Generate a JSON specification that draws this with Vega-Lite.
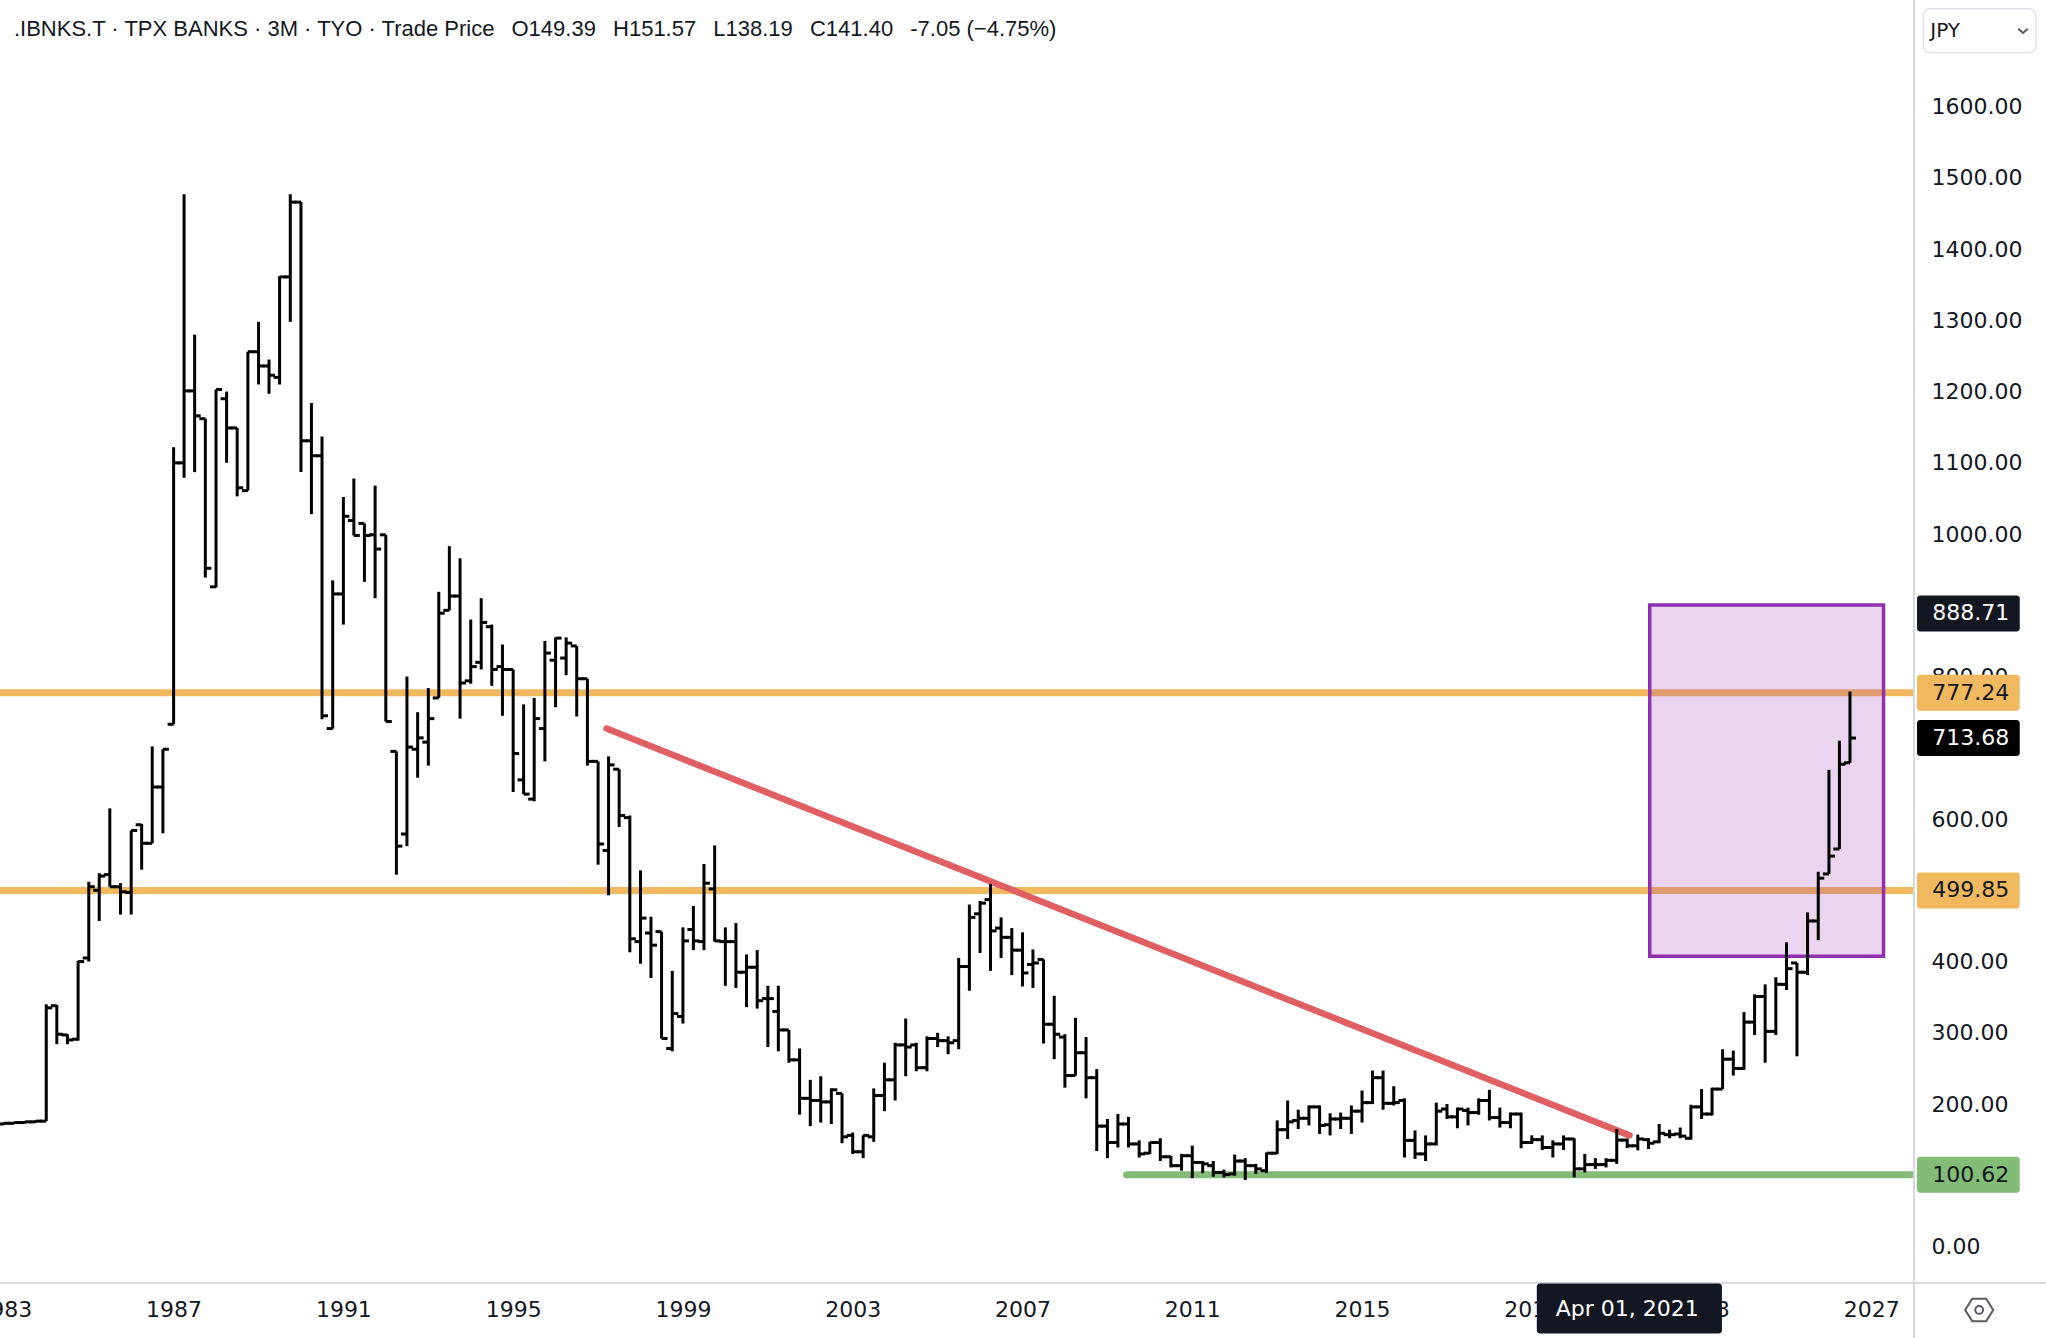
{
  "$schema": "https://vega.github.io/schema/vega-lite/v6.json",
  "width": 1914,
  "height": 1283,
  "autosize": {"type": "none"},
  "padding": {"left": 0, "top": 0, "right": 132, "bottom": 55},
  "background": "white",
  "config": {"view": {"stroke": null}, "font": "DejaVu Sans"},
  "datasets": {
    "bars": [
      {"d": "1983-01-01", "o": 172, "h": 174, "l": 171, "c": 173},
      {"d": "1983-04-01", "o": 173, "h": 175, "l": 172, "c": 174},
      {"d": "1983-07-01", "o": 174, "h": 176, "l": 173, "c": 175},
      {"d": "1983-10-01", "o": 175, "h": 177, "l": 174, "c": 176},
      {"d": "1984-01-01", "o": 176, "h": 340, "l": 176, "c": 335},
      {"d": "1984-04-01", "o": 338, "h": 339, "l": 284, "c": 298},
      {"d": "1984-07-01", "o": 297, "h": 298, "l": 284, "c": 290},
      {"d": "1984-10-01", "o": 291, "h": 401, "l": 289, "c": 400},
      {"d": "1985-01-01", "o": 405, "h": 512, "l": 400, "c": 505},
      {"d": "1985-04-01", "o": 500, "h": 524, "l": 457, "c": 520},
      {"d": "1985-07-01", "o": 522, "h": 615, "l": 505, "c": 505},
      {"d": "1985-10-01", "o": 505, "h": 510, "l": 466, "c": 498},
      {"d": "1986-01-01", "o": 497, "h": 584, "l": 466, "c": 584},
      {"d": "1986-04-01", "o": 592, "h": 593, "l": 529, "c": 566},
      {"d": "1986-07-01", "o": 566, "h": 702, "l": 566, "c": 645},
      {"d": "1986-10-01", "o": 645, "h": 698, "l": 580, "c": 698},
      {"d": "1987-01-01", "o": 733, "h": 1122, "l": 733, "c": 1100},
      {"d": "1987-04-01", "o": 1100, "h": 1477, "l": 1079, "c": 1201},
      {"d": "1987-07-01", "o": 1201, "h": 1280, "l": 1087, "c": 1166},
      {"d": "1987-10-01", "o": 1162, "h": 1162, "l": 939, "c": 952},
      {"d": "1988-01-01", "o": 926, "h": 1203, "l": 925, "c": 1203},
      {"d": "1988-04-01", "o": 1190, "h": 1200, "l": 1100, "c": 1149},
      {"d": "1988-07-01", "o": 1149, "h": 1149, "l": 1053, "c": 1065},
      {"d": "1988-10-01", "o": 1061, "h": 1256, "l": 1061, "c": 1256},
      {"d": "1989-01-01", "o": 1256, "h": 1298, "l": 1210, "c": 1236},
      {"d": "1989-04-01", "o": 1236, "h": 1245, "l": 1197, "c": 1223},
      {"d": "1989-07-01", "o": 1220, "h": 1362, "l": 1210, "c": 1361},
      {"d": "1989-10-01", "o": 1361, "h": 1477, "l": 1298, "c": 1466},
      {"d": "1990-01-01", "o": 1466, "h": 1466, "l": 1087, "c": 1131},
      {"d": "1990-04-01", "o": 1131, "h": 1184, "l": 1028, "c": 1110},
      {"d": "1990-07-01", "o": 1110, "h": 1137, "l": 740, "c": 745},
      {"d": "1990-10-01", "o": 727, "h": 935, "l": 727, "c": 916},
      {"d": "1991-01-01", "o": 916, "h": 1052, "l": 873, "c": 1025},
      {"d": "1991-04-01", "o": 1019, "h": 1078, "l": 998, "c": 998},
      {"d": "1991-07-01", "o": 1015, "h": 1015, "l": 933, "c": 998},
      {"d": "1991-10-01", "o": 999, "h": 1068, "l": 910, "c": 979},
      {"d": "1992-01-01", "o": 999, "h": 999, "l": 737, "c": 737},
      {"d": "1992-04-01", "o": 695, "h": 695, "l": 522, "c": 562},
      {"d": "1992-07-01", "o": 579, "h": 800, "l": 562, "c": 701},
      {"d": "1992-10-01", "o": 698, "h": 750, "l": 658, "c": 714},
      {"d": "1993-01-01", "o": 708, "h": 784, "l": 675, "c": 741},
      {"d": "1993-04-01", "o": 770, "h": 919, "l": 770, "c": 889},
      {"d": "1993-07-01", "o": 893, "h": 983, "l": 893, "c": 913},
      {"d": "1993-10-01", "o": 913, "h": 966, "l": 741, "c": 791},
      {"d": "1994-01-01", "o": 794, "h": 880, "l": 790, "c": 814},
      {"d": "1994-04-01", "o": 820, "h": 910, "l": 810, "c": 876},
      {"d": "1994-07-01", "o": 870, "h": 873, "l": 787, "c": 810},
      {"d": "1994-10-01", "o": 814, "h": 845, "l": 745, "c": 810},
      {"d": "1995-01-01", "o": 810, "h": 810, "l": 638, "c": 692},
      {"d": "1995-04-01", "o": 655, "h": 761, "l": 635, "c": 635},
      {"d": "1995-07-01", "o": 628, "h": 770, "l": 625, "c": 741},
      {"d": "1995-10-01", "o": 727, "h": 850, "l": 681, "c": 833},
      {"d": "1996-01-01", "o": 823, "h": 855, "l": 757, "c": 854},
      {"d": "1996-04-01", "o": 826, "h": 855, "l": 802, "c": 847},
      {"d": "1996-07-01", "o": 843, "h": 843, "l": 744, "c": 797},
      {"d": "1996-10-01", "o": 797, "h": 797, "l": 675, "c": 681},
      {"d": "1997-01-01", "o": 681, "h": 681, "l": 536, "c": 565},
      {"d": "1997-04-01", "o": 556, "h": 688, "l": 493, "c": 676},
      {"d": "1997-07-01", "o": 670, "h": 670, "l": 589, "c": 605},
      {"d": "1997-10-01", "o": 602, "h": 605, "l": 413, "c": 432},
      {"d": "1998-01-01", "o": 428, "h": 528, "l": 397, "c": 461},
      {"d": "1998-04-01", "o": 440, "h": 463, "l": 377, "c": 423},
      {"d": "1998-07-01", "o": 442, "h": 442, "l": 292, "c": 292},
      {"d": "1998-10-01", "o": 278, "h": 387, "l": 274, "c": 327},
      {"d": "1999-01-01", "o": 323, "h": 448, "l": 313, "c": 429},
      {"d": "1999-04-01", "o": 445, "h": 478, "l": 416, "c": 429},
      {"d": "1999-07-01", "o": 428, "h": 537, "l": 416, "c": 510},
      {"d": "1999-10-01", "o": 502, "h": 563, "l": 428, "c": 429},
      {"d": "2000-01-01", "o": 428, "h": 448, "l": 366, "c": 428},
      {"d": "2000-04-01", "o": 428, "h": 454, "l": 363, "c": 385},
      {"d": "2000-07-01", "o": 385, "h": 410, "l": 336, "c": 392},
      {"d": "2000-10-01", "o": 392, "h": 416, "l": 334, "c": 345},
      {"d": "2001-01-01", "o": 348, "h": 366, "l": 280, "c": 348},
      {"d": "2001-04-01", "o": 330, "h": 366, "l": 274, "c": 304},
      {"d": "2001-07-01", "o": 304, "h": 304, "l": 258, "c": 262},
      {"d": "2001-10-01", "o": 262, "h": 278, "l": 185, "c": 208},
      {"d": "2002-01-01", "o": 208, "h": 234, "l": 169, "c": 205},
      {"d": "2002-04-01", "o": 205, "h": 239, "l": 174, "c": 203},
      {"d": "2002-07-01", "o": 203, "h": 222, "l": 172, "c": 220},
      {"d": "2002-10-01", "o": 215, "h": 215, "l": 145, "c": 154},
      {"d": "2003-01-01", "o": 156, "h": 160, "l": 130, "c": 133},
      {"d": "2003-04-01", "o": 133, "h": 156, "l": 124, "c": 156},
      {"d": "2003-07-01", "o": 154, "h": 222, "l": 147, "c": 212},
      {"d": "2003-10-01", "o": 212, "h": 258, "l": 190, "c": 234},
      {"d": "2004-01-01", "o": 234, "h": 286, "l": 205, "c": 283},
      {"d": "2004-04-01", "o": 283, "h": 320, "l": 239, "c": 280},
      {"d": "2004-07-01", "o": 283, "h": 286, "l": 246, "c": 251},
      {"d": "2004-10-01", "o": 251, "h": 295, "l": 246, "c": 292},
      {"d": "2005-01-01", "o": 292, "h": 300, "l": 280, "c": 289},
      {"d": "2005-04-01", "o": 289, "h": 295, "l": 270, "c": 286},
      {"d": "2005-07-01", "o": 289, "h": 405, "l": 277, "c": 393},
      {"d": "2005-10-01", "o": 393, "h": 480, "l": 359, "c": 462},
      {"d": "2006-01-01", "o": 467, "h": 485, "l": 412, "c": 482},
      {"d": "2006-04-01", "o": 487, "h": 509, "l": 387, "c": 443},
      {"d": "2006-07-01", "o": 447, "h": 462, "l": 405, "c": 434},
      {"d": "2006-10-01", "o": 434, "h": 447, "l": 381, "c": 416},
      {"d": "2007-01-01", "o": 416, "h": 441, "l": 365, "c": 384},
      {"d": "2007-04-01", "o": 396, "h": 417, "l": 363, "c": 398},
      {"d": "2007-07-01", "o": 403, "h": 403, "l": 285, "c": 312},
      {"d": "2007-10-01", "o": 312, "h": 352, "l": 263, "c": 298},
      {"d": "2008-01-01", "o": 294, "h": 298, "l": 223, "c": 240},
      {"d": "2008-04-01", "o": 240, "h": 321, "l": 240, "c": 272},
      {"d": "2008-07-01", "o": 272, "h": 294, "l": 208, "c": 237},
      {"d": "2008-10-01", "o": 237, "h": 249, "l": 134, "c": 169},
      {"d": "2009-01-01", "o": 169, "h": 179, "l": 124, "c": 146},
      {"d": "2009-04-01", "o": 146, "h": 186, "l": 139, "c": 172},
      {"d": "2009-07-01", "o": 172, "h": 182, "l": 139, "c": 144},
      {"d": "2009-10-01", "o": 144, "h": 149, "l": 125, "c": 130},
      {"d": "2010-01-01", "o": 131, "h": 147, "l": 130, "c": 146},
      {"d": "2010-04-01", "o": 146, "h": 152, "l": 120, "c": 126},
      {"d": "2010-07-01", "o": 126, "h": 127, "l": 111, "c": 113.5},
      {"d": "2010-10-01", "o": 113.5, "h": 130, "l": 106.5, "c": 127.5},
      {"d": "2011-01-01", "o": 127.5, "h": 141.6, "l": 96, "c": 118},
      {"d": "2011-04-01", "o": 118, "h": 120, "l": 103, "c": 116},
      {"d": "2011-07-01", "o": 113.5, "h": 120, "l": 98, "c": 104},
      {"d": "2011-10-01", "o": 104, "h": 108, "l": 97, "c": 101},
      {"d": "2012-01-01", "o": 102, "h": 129, "l": 99.5, "c": 120},
      {"d": "2012-04-01", "o": 120, "h": 124, "l": 93.4, "c": 113.5},
      {"d": "2012-07-01", "o": 113.5, "h": 116, "l": 102, "c": 109},
      {"d": "2012-10-01", "o": 106.5, "h": 132, "l": 103, "c": 131},
      {"d": "2013-01-01", "o": 131, "h": 177, "l": 130, "c": 164},
      {"d": "2013-04-01", "o": 164, "h": 205, "l": 151, "c": 175},
      {"d": "2013-07-01", "o": 177, "h": 192, "l": 165, "c": 180},
      {"d": "2013-10-01", "o": 180, "h": 198, "l": 170, "c": 196},
      {"d": "2014-01-01", "o": 196, "h": 198, "l": 158, "c": 170},
      {"d": "2014-04-01", "o": 171, "h": 187, "l": 156, "c": 179},
      {"d": "2014-07-01", "o": 179, "h": 188, "l": 165, "c": 180},
      {"d": "2014-10-01", "o": 180, "h": 198, "l": 158, "c": 190},
      {"d": "2015-01-01", "o": 190, "h": 219, "l": 174, "c": 202},
      {"d": "2015-04-01", "o": 202, "h": 247, "l": 200, "c": 237},
      {"d": "2015-07-01", "o": 237, "h": 247, "l": 192, "c": 201},
      {"d": "2015-10-01", "o": 201, "h": 225, "l": 198, "c": 202},
      {"d": "2016-01-01", "o": 205, "h": 208, "l": 125, "c": 149},
      {"d": "2016-04-01", "o": 149, "h": 163, "l": 123, "c": 130},
      {"d": "2016-07-01", "o": 130, "h": 156, "l": 120, "c": 144},
      {"d": "2016-10-01", "o": 144, "h": 202, "l": 142, "c": 190},
      {"d": "2017-01-01", "o": 193, "h": 200, "l": 179, "c": 182},
      {"d": "2017-04-01", "o": 182, "h": 195, "l": 166, "c": 193},
      {"d": "2017-07-01", "o": 191, "h": 195, "l": 170, "c": 188},
      {"d": "2017-10-01", "o": 188, "h": 208, "l": 185, "c": 205},
      {"d": "2018-01-01", "o": 205, "h": 220, "l": 177, "c": 181},
      {"d": "2018-04-01", "o": 181, "h": 195, "l": 167, "c": 174},
      {"d": "2018-07-01", "o": 174, "h": 188, "l": 166, "c": 186},
      {"d": "2018-10-01", "o": 186, "h": 188, "l": 138, "c": 146},
      {"d": "2019-01-01", "o": 146, "h": 156, "l": 144, "c": 150},
      {"d": "2019-04-01", "o": 150, "h": 156, "l": 135.5, "c": 139},
      {"d": "2019-07-01", "o": 139, "h": 149, "l": 125, "c": 144},
      {"d": "2019-10-01", "o": 144, "h": 156, "l": 135.5, "c": 151},
      {"d": "2020-01-01", "o": 151, "h": 152, "l": 97, "c": 109},
      {"d": "2020-04-01", "o": 109, "h": 130, "l": 104, "c": 115},
      {"d": "2020-07-01", "o": 115, "h": 124, "l": 109, "c": 115},
      {"d": "2020-10-01", "o": 115, "h": 124, "l": 111, "c": 121},
      {"d": "2021-01-01", "o": 121, "h": 165, "l": 116, "c": 149.39},
      {"d": "2021-04-01", "o": 149.39, "h": 151.57, "l": 138.19, "c": 141.4},
      {"d": "2021-07-01", "o": 141.4, "h": 157, "l": 135, "c": 151},
      {"d": "2021-10-01", "o": 150, "h": 152, "l": 137, "c": 145},
      {"d": "2022-01-01", "o": 147, "h": 172, "l": 145, "c": 159},
      {"d": "2022-04-01", "o": 157, "h": 164, "l": 152, "c": 157},
      {"d": "2022-07-01", "o": 158, "h": 167, "l": 152, "c": 155},
      {"d": "2022-10-01", "o": 152, "h": 199, "l": 150, "c": 196},
      {"d": "2023-01-01", "o": 196, "h": 221, "l": 179, "c": 186},
      {"d": "2023-04-01", "o": 186, "h": 223, "l": 184, "c": 221},
      {"d": "2023-07-01", "o": 221, "h": 277, "l": 221, "c": 263},
      {"d": "2023-10-01", "o": 263, "h": 275, "l": 240, "c": 250},
      {"d": "2024-01-01", "o": 250, "h": 329, "l": 248, "c": 315},
      {"d": "2024-04-01", "o": 315, "h": 354, "l": 297, "c": 351},
      {"d": "2024-07-01", "o": 351, "h": 368, "l": 258, "c": 302},
      {"d": "2024-10-01", "o": 302, "h": 378, "l": 297, "c": 368},
      {"d": "2025-01-01", "o": 368, "h": 427, "l": 360, "c": 390},
      {"d": "2025-04-01", "o": 398, "h": 398, "l": 267, "c": 385},
      {"d": "2025-07-01", "o": 385, "h": 469, "l": 381, "c": 457},
      {"d": "2025-10-01", "o": 457, "h": 526, "l": 430, "c": 517},
      {"d": "2026-01-01", "o": 523, "h": 669, "l": 523, "c": 548},
      {"d": "2026-04-01", "o": 558, "h": 710, "l": 558, "c": 677},
      {"d": "2026-07-01", "o": 679, "h": 779, "l": 679, "c": 713.68}
    ],
    "levels": [
      {"price": 888.71, "label": "888.71", "kind": "crosshair"},
      {"price": 777.24, "label": "777.24", "kind": "resistance"},
      {"price": 713.68, "label": "713.68", "kind": "last"},
      {"price": 499.85, "label": "499.85", "kind": "resistance"},
      {"price": 100.62, "label": "100.62", "kind": "support"}
    ],
    "support": [{"start": "2009-06-15", "end": "2028-02-01", "price": 100.62}],
    "trend": [{"start": "1997-03-15", "end": "2021-04-20", "from": 727, "to": 156}],
    "zone": [{"start": "2021-10-12", "end": "2027-04-16", "low": 407.6, "high": 900.4}],
    "cursor": [{"date": "2021-04-01", "label": "Apr 01, 2021"}]
  },
  "layer": [
    {
      "data": {"name": "levels"},
      "transform": [{"filter": "datum.kind === 'resistance'"}],
      "mark": {"type": "rule", "color": "#f0b95f", "strokeWidth": 7},
      "encoding": {
        "y": {
          "field": "price",
          "type": "quantitative",
          "scale": {"domain": [-51.2, 1749.7], "nice": false, "zero": false},
          "axis": {
            "orient": "right",
            "values": [0, 100, 200, 300, 400, 500, 600, 700, 800, 900, 1000, 1100, 1200, 1300, 1400, 1500, 1600],
            "format": ".2f",
            "title": null,
            "domain": false,
            "ticks": false,
            "tickSize": 0,
            "grid": false,
            "labelPadding": 17,
            "labelAlign": "left",
            "labelBaseline": "middle",
            "labelFont": "DejaVu Sans",
            "labelFontSize": 22,
            "labelColor": "#131722",
            "labelOverlap": false,
            "labelBound": false,
            "labelFlush": false
          }
        }
      }
    },
    {
      "data": {"name": "support"},
      "mark": {"type": "rule", "color": "#82bc76", "strokeWidth": 7, "strokeCap": "round", "clip": true},
      "encoding": {
        "x": {
          "field": "start",
          "type": "temporal",
          "scale": {
            "type": "utc",
            "domain": [
              {"year": 1982, "month": 11, "date": 29, "utc": true},
              {"year": 2028, "month": 1, "date": 3, "utc": true}
            ]
          },
          "axis": {
            "values": [
              {"year": 1983, "month": 1, "date": 1, "utc": true},
              {"year": 1987, "month": 1, "date": 1, "utc": true},
              {"year": 1991, "month": 1, "date": 1, "utc": true},
              {"year": 1995, "month": 1, "date": 1, "utc": true},
              {"year": 1999, "month": 1, "date": 1, "utc": true},
              {"year": 2003, "month": 1, "date": 1, "utc": true},
              {"year": 2007, "month": 1, "date": 1, "utc": true},
              {"year": 2011, "month": 1, "date": 1, "utc": true},
              {"year": 2015, "month": 1, "date": 1, "utc": true},
              {"year": 2019, "month": 1, "date": 1, "utc": true},
              {"year": 2023, "month": 1, "date": 1, "utc": true},
              {"year": 2027, "month": 1, "date": 1, "utc": true}
            ],
            "format": "%Y",
            "title": null,
            "domain": false,
            "ticks": false,
            "tickSize": 0,
            "grid": false,
            "labelPadding": 26,
            "labelAlign": "center",
            "labelBaseline": "middle",
            "labelFont": "DejaVu Sans",
            "labelFontSize": 22,
            "labelColor": "#131722",
            "labelOverlap": false,
            "labelBound": false,
            "labelFlush": false
          }
        },
        "x2": {"field": "end"},
        "y": {"field": "price", "type": "quantitative"}
      }
    },
    {
      "data": {"name": "trend"},
      "mark": {"type": "rule", "color": "#e05f62", "strokeWidth": 6.5, "strokeCap": "round"},
      "encoding": {
        "x": {"field": "start", "type": "temporal"},
        "x2": {"field": "end"},
        "y": {"field": "from", "type": "quantitative"},
        "y2": {"field": "to"}
      }
    },
    {
      "data": {"name": "zone"},
      "mark": {"type": "rect", "fill": "#9c27b0", "fillOpacity": 0.2, "stroke": "#9030b0", "strokeWidth": 3.5},
      "encoding": {
        "x": {"field": "start", "type": "temporal"},
        "x2": {"field": "end"},
        "y": {"field": "low", "type": "quantitative"},
        "y2": {"field": "high"}
      }
    },
    {
      "data": {"name": "bars"},
      "mark": {"type": "rule", "color": "#000000", "strokeWidth": 3},
      "encoding": {
        "x": {"field": "d", "type": "temporal"},
        "y": {"field": "l", "type": "quantitative"},
        "y2": {"field": "h"}
      }
    },
    {
      "data": {"name": "bars"},
      "mark": {"type": "rule", "color": "#000000", "strokeWidth": 3, "xOffset": -6},
      "encoding": {
        "x": {"field": "d", "type": "temporal"},
        "x2": {"field": "d"},
        "y": {"field": "o", "type": "quantitative"}
      }
    },
    {
      "data": {"name": "bars"},
      "mark": {"type": "rule", "color": "#000000", "strokeWidth": 3, "x2Offset": 6},
      "encoding": {
        "x": {"field": "d", "type": "temporal"},
        "x2": {"field": "d"},
        "y": {"field": "c", "type": "quantitative"}
      }
    },
    {
      "data": {"values": [{}]},
      "mark": {"type": "rule", "color": "#d6d9e0", "strokeWidth": 2},
      "encoding": {
        "x": {"datum": {"year": 1982, "month": 1, "date": 1, "utc": true}, "type": "temporal"},
        "x2": {"datum": {"year": 2032, "month": 1, "date": 1, "utc": true}},
        "y": {"datum": -51.2, "type": "quantitative"}
      }
    },
    {
      "data": {"values": [{}]},
      "mark": {"type": "rule", "color": "#d6d9e0", "strokeWidth": 2},
      "encoding": {
        "x": {"datum": {"year": 2028, "month": 1, "date": 3, "utc": true}, "type": "temporal"},
        "y": {"datum": 1760, "type": "quantitative"},
        "y2": {"datum": -140}
      }
    },
    {
      "data": {"name": "levels"},
      "mark": {"type": "rect", "cornerRadius": 3, "yOffset": -18, "y2Offset": 18},
      "encoding": {
        "x": {"datum": {"year": 2028, "month": 1, "date": 29, "utc": true}, "type": "temporal"},
        "x2": {"datum": {"year": 2030, "month": 7, "date": 1, "utc": true}},
        "y": {"field": "price", "type": "quantitative"},
        "y2": {"field": "price"},
        "color": {
          "field": "kind",
          "type": "nominal",
          "scale": {"domain": ["resistance", "crosshair", "last", "support"], "range": ["#f0b95f", "#131722", "#000000", "#82bc76"]},
          "legend": null
        }
      }
    },
    {
      "data": {"name": "levels"},
      "mark": {"type": "text", "align": "left", "baseline": "middle", "font": "DejaVu Sans", "fontSize": 22},
      "encoding": {
        "x": {"datum": {"year": 2028, "month": 6, "date": 8, "utc": true}, "type": "temporal"},
        "y": {"field": "price", "type": "quantitative"},
        "text": {"field": "label"},
        "color": {"condition": {"test": "datum.kind === 'crosshair' || datum.kind === 'last'", "value": "#ffffff"}, "value": "#131722"}
      }
    },
    {
      "data": {"name": "cursor"},
      "mark": {"type": "rect", "color": "#131722", "cornerRadius": 3, "yOffset": -25, "y2Offset": 25},
      "encoding": {
        "x": {"datum": {"year": 2019, "month": 2, "date": 13, "utc": true}, "type": "temporal"},
        "x2": {"datum": {"year": 2023, "month": 6, "date": 25, "utc": true}},
        "y": {"datum": -87, "type": "quantitative"},
        "y2": {"datum": -87}
      }
    },
    {
      "data": {"name": "cursor"},
      "mark": {"type": "text", "align": "center", "baseline": "middle", "font": "DejaVu Sans", "fontSize": 22, "color": "#ffffff"},
      "encoding": {
        "x": {"field": "date", "type": "temporal"},
        "y": {"datum": -87, "type": "quantitative"},
        "text": {"field": "label"}
      }
    },
    {
      "data": {"values": [{}]},
      "mark": {"type": "rect", "fill": "#ffffff", "stroke": "#e0e3eb", "strokeWidth": 1.5, "cornerRadius": 7, "yOffset": -22, "y2Offset": 22},
      "encoding": {
        "x": {"datum": {"year": 2028, "month": 3, "date": 23, "utc": true}, "type": "temporal"},
        "x2": {"datum": {"year": 2030, "month": 11, "date": 19, "utc": true}},
        "y": {"datum": 1706.5, "type": "quantitative"},
        "y2": {"datum": 1706.5}
      }
    },
    {
      "data": {"values": [{}]},
      "mark": {"type": "text", "align": "left", "baseline": "middle", "font": "DejaVu Sans", "fontSize": 20, "color": "#131722", "text": "JPY"},
      "encoding": {
        "x": {"datum": {"year": 2028, "month": 5, "date": 22, "utc": true}, "type": "temporal"},
        "y": {"datum": 1706.5, "type": "quantitative"}
      }
    },
    {
      "data": {"values": [{}]},
      "mark": {"type": "point", "shape": "M -1 -0.45 L 0 0.45 L 1 -0.45", "filled": false, "stroke": "#131722", "strokeWidth": 2, "size": 90},
      "encoding": {
        "x": {"datum": {"year": 2030, "month": 7, "date": 29, "utc": true}, "type": "temporal"},
        "y": {"datum": 1706.5, "type": "quantitative"}
      }
    },
    {
      "data": {"values": [{}]},
      "mark": {"type": "point", "shape": "M -1 0 L -0.5 -0.8 L 0.5 -0.8 L 1 0 L 0.5 0.8 L -0.5 0.8 Z", "filled": false, "stroke": "#131722", "strokeWidth": 2, "size": 784},
      "encoding": {
        "x": {"datum": {"year": 2029, "month": 7, "date": 17, "utc": true}, "type": "temporal"},
        "y": {"datum": -89, "type": "quantitative"}
      }
    },
    {
      "data": {"values": [{}]},
      "mark": {"type": "point", "shape": "circle", "filled": false, "stroke": "#131722", "strokeWidth": 2, "size": 60},
      "encoding": {
        "x": {"datum": {"year": 2029, "month": 7, "date": 17, "utc": true}, "type": "temporal"},
        "y": {"datum": -89, "type": "quantitative"}
      }
    },
    {
      "data": {"values": [{}]},
      "mark": {
        "type": "text",
        "align": "left",
        "baseline": "middle",
        "font": "Liberation Sans",
        "fontSize": 22,
        "color": "#131722",
        "text": ".IBNKS.T · TPX BANKS · 3M · TYO · Trade Price\u2002 O149.39\u2002 H151.57\u2002 L138.19\u2002 C141.40\u2002 -7.05 (−4.75%)"
      },
      "encoding": {
        "x": {"datum": {"year": 1983, "month": 3, "date": 29, "utc": true}, "type": "temporal"},
        "y": {"datum": 1709, "type": "quantitative"}
      }
    }
  ]
}
